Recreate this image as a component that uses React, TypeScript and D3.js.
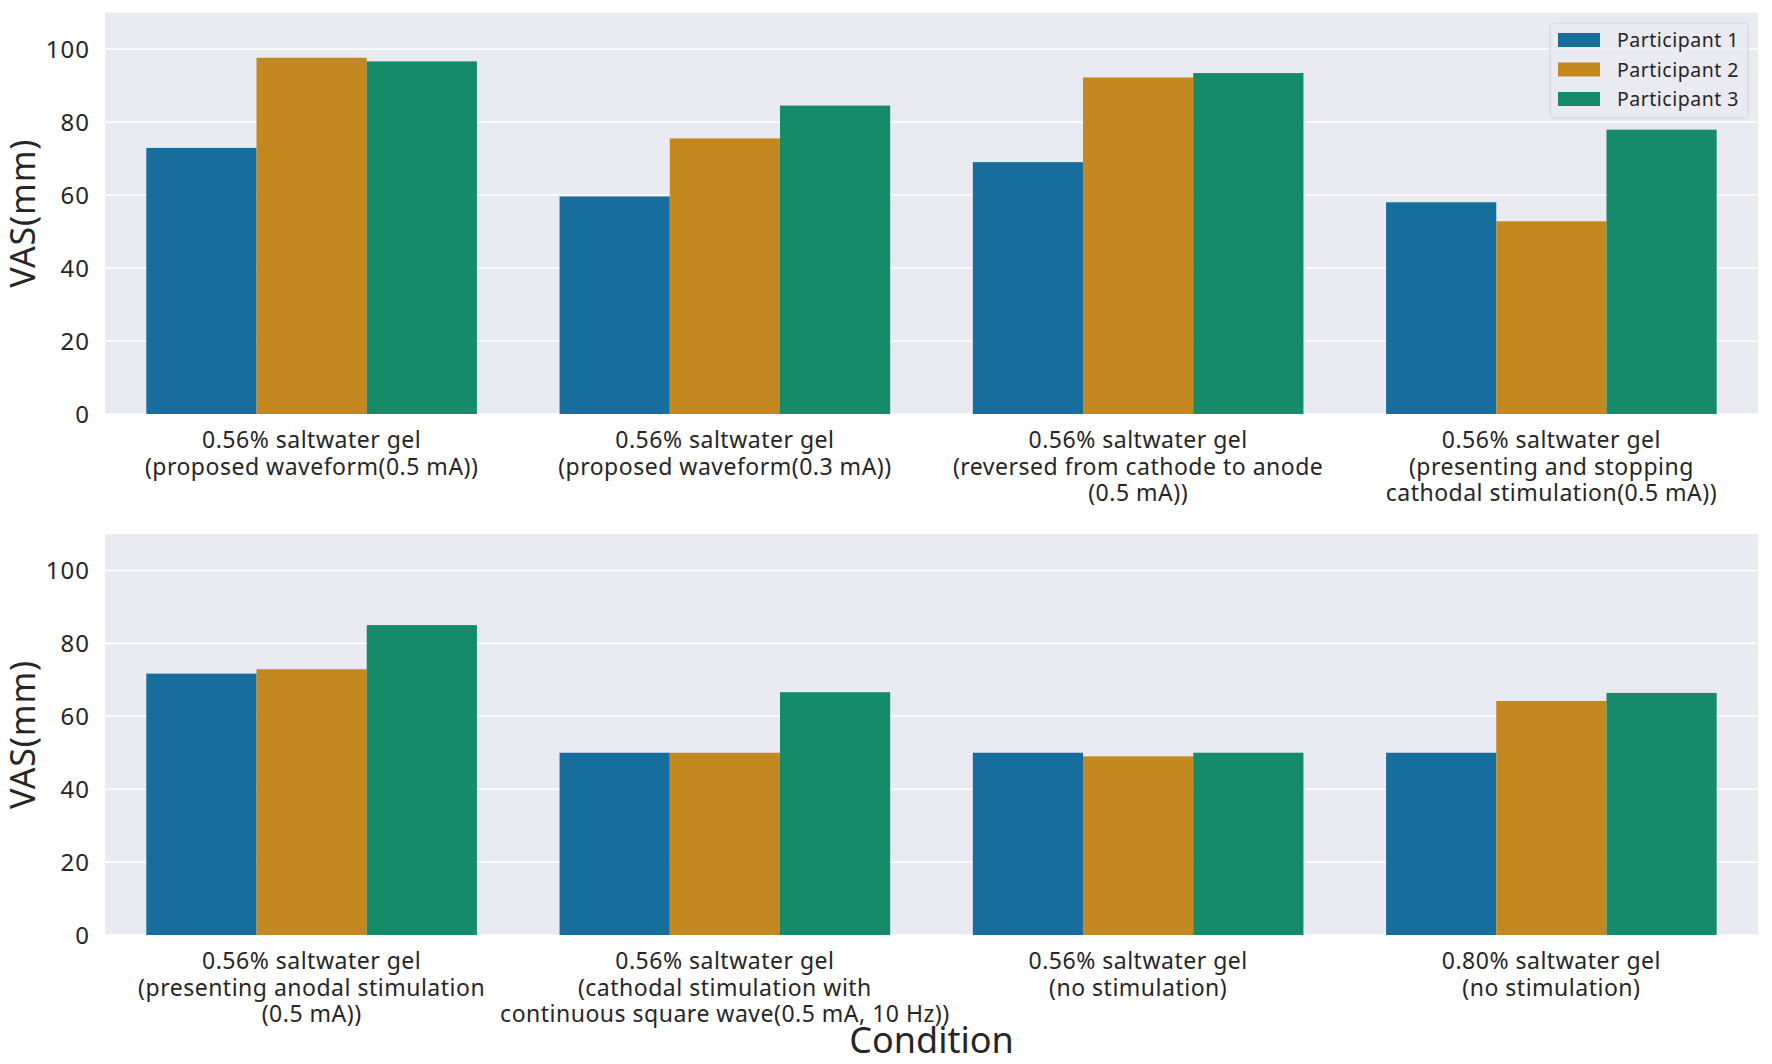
import * as d3 from "d3";

const participants = ["Participant 1", "Participant 2", "Participant 3"];
const colors = ["#176d9c", "#c38820", "#158b6a"];

const topConditions = [
  ["0.56% saltwater gel", "(proposed waveform(0.5 mA))"],
  ["0.56% saltwater gel", "(proposed waveform(0.3 mA))"],
  ["0.56% saltwater gel", "(reversed from cathode to anode", "(0.5 mA))"],
  ["0.56% saltwater gel", "(presenting and stopping", "cathodal stimulation(0.5 mA))"],
];
const topValues = [
  [72.9, 97.6, 96.6],
  [59.6, 75.5, 84.5],
  [69.0, 92.2, 93.4],
  [58.0, 52.8, 77.9],
];

const bottomConditions = [
  ["0.56% saltwater gel", "(presenting anodal stimulation", "(0.5 mA))"],
  ["0.56% saltwater gel", "(cathodal stimulation with", "continuous square wave(0.5 mA, 10 Hz))"],
  ["0.56% saltwater gel", "(no stimulation)"],
  ["0.80% saltwater gel", "(no stimulation)"],
];
const bottomValues = [
  [71.7, 72.9, 85.0],
  [50.0, 50.0, 66.6],
  [50.0, 49.0, 50.0],
  [50.0, 64.2, 66.4],
];

const yTicks = [0, 20, 40, 60, 80, 100];

const W = 1772;
const H = 1064;
const left = 105;
const right = 1758;
const font = "'Noto Sans', 'Noto Sans CJK JP', sans-serif";
const textColor = "#262626";

type PanelProps = {
  top: number;
  bottom: number;
  conditions: string[][];
  values: number[][];
  legend?: boolean;
};

function Panel({ top, bottom, conditions, values, legend }: PanelProps) {
  const x = d3
    .scaleBand<number>()
    .domain(d3.range(conditions.length))
    .range([left, right])
    .paddingInner(0.2)
    .paddingOuter(0.1);
  const inner = d3
    .scaleBand<number>()
    .domain(d3.range(participants.length))
    .range([0, x.bandwidth()]);
  const y = d3.scaleLinear().domain([0, 110]).range([bottom, top]);
  const mid = (top + bottom) / 2;

  return (
    <g>
      <rect x={left} y={top} width={right - left} height={bottom - top} fill="#eaeaf2" />
      {yTicks.map((t) => (
        <g key={t}>
          <line x1={left} x2={right} y1={y(t)} y2={y(t)} stroke="#fff" strokeWidth={1.6} />
          <text
            x={90}
            y={y(t)}
            dy="0.36em"
            textAnchor="end"
            fontSize={24}
            letterSpacing={1}
            fill={textColor}
            fontFamily={font}
          >
            {t}
          </text>
        </g>
      ))}
      {values.map((row, i) =>
        row.map((v, j) => (
          <rect
            key={`${i}-${j}`}
            x={(x(i) ?? 0) + (inner(j) ?? 0)}
            y={y(v)}
            width={inner.bandwidth()}
            height={y(0) - y(v)}
            fill={colors[j]}
          />
        )),
      )}
      {conditions.map((lines, i) => (
        <text
          key={i}
          x={(x(i) ?? 0) + x.bandwidth() / 2}
          y={bottom + 34}
          textAnchor="middle"
          fontSize={23}
          letterSpacing={0.5}
          fill={textColor}
          fontFamily={font}
        >
          {lines.map((l, k) => (
            <tspan key={k} x={(x(i) ?? 0) + x.bandwidth() / 2} dy={k === 0 ? 0 : 26.5}>
              {l}
            </tspan>
          ))}
        </text>
      ))}
      <text
        transform={`translate(35,${mid}) rotate(-90)`}
        textAnchor="middle"
        fontSize={34}
        letterSpacing={0.8}
        fill={textColor}
        fontFamily={font}
      >
        VAS(mm)
      </text>
      {legend && (
        <g>
          <rect
            x={1550}
            y={23}
            width={198}
            height={95}
            rx={4}
            fill="#eaeaf2"
            fillOpacity={0.8}
            stroke="#d5d5dd"
            strokeWidth={1.2}
          />
          {participants.map((p, j) => (
            <g key={p} transform={`translate(0,${40 + j * 29.5})`}>
              <rect x={1558} y={-7} width={42} height={14} fill={colors[j]} />
              <text
                x={1617}
                dy="0.36em"
                fontSize={19.5}
                letterSpacing={0.5}
                fill={textColor}
                fontFamily={font}
              >
                {p}
              </text>
            </g>
          ))}
        </g>
      )}
    </g>
  );
}

export default function App() {
  return (
    <div style={{ position: "absolute", left: 0, top: 0, width: W, height: H, background: "#fff" }}>
      <svg width={W} height={H} viewBox={`0 0 ${W} ${H}`}>
        <rect width={W} height={H} fill="#fff" />
        <Panel top={12.5} bottom={414} conditions={topConditions} values={topValues} legend />
        <Panel top={534} bottom={935} conditions={bottomConditions} values={bottomValues} />
        <text
          x={(left + right) / 2}
          y={1053}
          textAnchor="middle"
          fontSize={36}
          fill={textColor}
          fontFamily={font}
        >
          Condition
        </text>
      </svg>
    </div>
  );
}
